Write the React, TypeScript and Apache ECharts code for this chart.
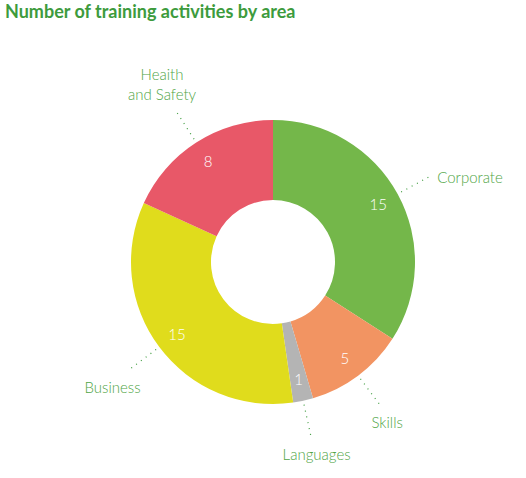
import React, { useEffect, useRef } from 'react';
import * as echarts from 'echarts';

const areas = ['Corporate', 'Skills', 'Languages', 'Business', 'Heaith\nand Safety'];
const counts = [15, 5, 1, 15, 8];
const colors = ['#74b74a', '#f29462', '#b4b4b4', '#e0dc1c', '#e85868'];

const CX = 273;
const CY = 262;
const R_IN = 62;
const R_OUT = 142;

// mid angle of every slice, clockwise from the top, in radians
const total = counts.reduce((a, b) => a + b, 0);
const midAngles: number[] = [];
let acc = 0;
counts.forEach((c) => {
  midAngles.push(((acc + c / 2) / total) * Math.PI * 2);
  acc += c;
});

const App: React.FC = () => {
  const chartRef = useRef<HTMLDivElement>(null);

  useEffect(() => {
    document.body.style.margin = '0';
    if (!chartRef.current) return;
    const chart = echarts.init(chartRef.current, null, { renderer: 'svg' });

    const data = areas.map((name, i) => ({
      name,
      value: counts[i],
      itemStyle: { color: colors[i] }
    }));

    const option: echarts.EChartsOption = {
      animation: false,
      title: {
        text: 'Number of training activities by area',
        left: 5,
        top: 2,
        padding: 0,
        textStyle: { color: '#3d9b3d', fontSize: 18, fontWeight: 'bold', fontFamily: 'Lato' }
      },
      series: [
        {
          type: 'pie',
          center: [CX, CY],
          radius: [R_IN, R_OUT],
          startAngle: 90,
          clockwise: true,
          silent: true,
          data,
          label: {
            show: true,
            position: 'outside',
            formatter: '{b}',
            color: '#4fa545',
            fontSize: 15,
            fontWeight: 300,
            fontFamily: 'Lato',
            lineHeight: 20,
            align: 'center'
          },
          labelLine: {
            show: true,
            length: 30,
            length2: 0,
            lineStyle: { color: '#3d9b3d', type: [1, 5], width: 1.2 }
          },
          labelLayout: (params: any) => {
            const a = midAngles[params.dataIndex];
            const dx = Math.sin(a);
            const dy = -Math.cos(a);
            const r0 = R_OUT + 4;
            const r1 = R_OUT + 36;
            const ex = CX + dx * r1;
            const ey = CY + dy * r1;
            const w = params.labelRect.width / 2;
            const h = params.labelRect.height / 2;
            let x: number;
            let y: number;
            if (Math.abs(dx) >= 0.85) {
              x = ex + Math.sign(dx) * (8 + w);
              y = ey;
            } else {
              x = ex + dx * w * 0.8;
              y = ey + Math.sign(dy) * (8 + h);
            }
            return {
              x,
              y,
              align: 'center',
              verticalAlign: 'middle',
              labelLinePoints: [
                [CX + dx * r0, CY + dy * r0],
                [ex, ey],
                [ex, ey]
              ]
            };
          }
        },
        {
          type: 'pie',
          center: [CX, CY],
          radius: [92, R_OUT],
          startAngle: 90,
          clockwise: true,
          silent: true,
          data: areas.map((name, i) => ({ name, value: counts[i] })),
          itemStyle: { color: 'transparent', borderWidth: 0 },
          label: {
            show: true,
            position: 'inside',
            formatter: '{c}',
            color: '#ffffff',
            fontSize: 15,
            fontWeight: 300,
            fontFamily: 'Lato'
          },
          labelLine: { show: false }
        }
      ]
    };

    chart.setOption(option);
    return () => chart.dispose();
  }, []);

  return <div ref={chartRef} style={{ width: 526, height: 478 }} />;
};

export default App;
